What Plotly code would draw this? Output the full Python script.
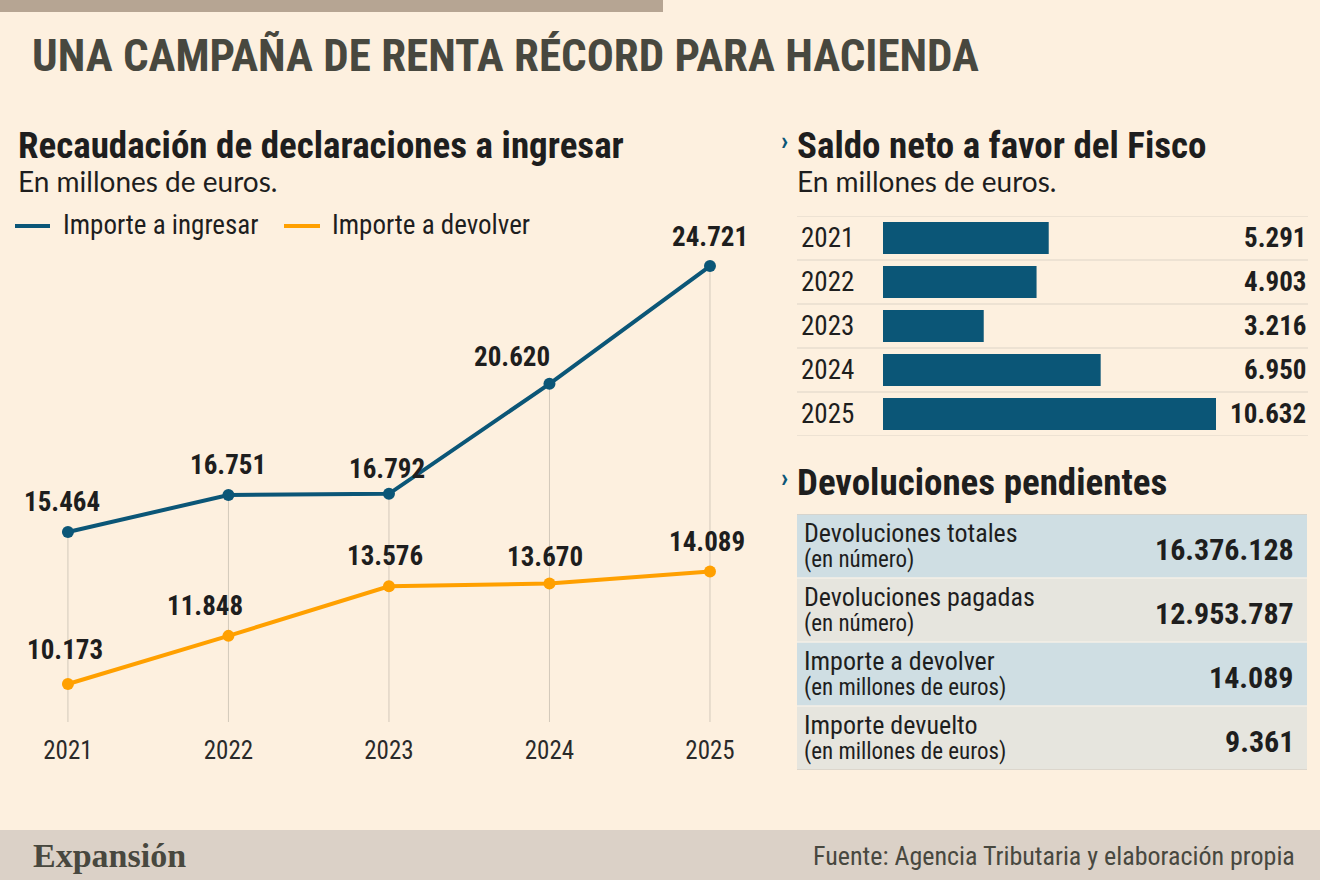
import plotly.graph_objects as go

# ---------------- data ----------------
YEARS = [2021, 2022, 2023, 2024, 2025]
IMPORTE_INGRESAR = [15464, 16751, 16792, 20620, 24721]
IMPORTE_DEVOLVER = [10173, 11848, 13576, 13670, 14089]

SALDO_YEARS = ["2021", "2022", "2023", "2024", "2025"]
SALDO_NETO = [5291, 4903, 3216, 6950, 10632]

TABLE_LABELS = ["Devoluciones totales", "Devoluciones pagadas",
                "Importe a devolver", "Importe devuelto"]
TABLE_UNITS = ["(en número)", "(en número)",
               "(en millones de euros)", "(en millones de euros)"]
TABLE_VALUES = [16376128, 12953787, 14089, 9361]

# ---------------- style ----------------
W, H = 1320, 880
BG = "#fdf0df"
BLUE = "#0b5677"
ORANGE = "#ffa000"
DARK = "#1e1e1e"
TITLE_C = "#48483f"
GRID = "#d3c9bc"
COND = "Roboto Condensed, Liberation Sans Narrow, DejaVu Sans Condensed, sans-serif"
REG = "Lato, Open Sans, sans-serif"

# label offsets (px) for line-chart value labels: (dx, dy)
OFF_ING = [(-6, 30), (0, 30), (-2, 25), (-37, 27), (0, 29)]
OFF_DEV = [(-3, 34), (-23, 30), (-4, 30), (-4, 27), (-3, 29)]


def px(x):
    return x / W


def py(y):
    return 1 - y / H


def fmt(v):
    return f"{v:,}".replace(",", ".")


Y_RANGE = [8850, 25627]

fig = go.Figure()

# line chart
fig.add_trace(go.Scatter(x=YEARS, y=IMPORTE_INGRESAR, mode="lines+markers",
                         line=dict(color=BLUE, width=4), marker=dict(size=12, color=BLUE),
                         name="Importe a ingresar", showlegend=False, hoverinfo="skip",
                         xaxis="x", yaxis="y"))
fig.add_trace(go.Scatter(x=YEARS, y=IMPORTE_DEVOLVER, mode="lines+markers",
                         line=dict(color=ORANGE, width=4), marker=dict(size=12, color=ORANGE),
                         name="Importe a devolver", showlegend=False, hoverinfo="skip",
                         xaxis="x", yaxis="y"))

# bar chart
fig.add_trace(go.Bar(x=SALDO_NETO, y=SALDO_YEARS, orientation="h",
                     marker=dict(color=BLUE, line=dict(width=0)),
                     showlegend=False, hoverinfo="skip", xaxis="x2", yaxis="y2"))

# table anchor (invisible)
fig.add_trace(go.Scatter(x=[0] * len(TABLE_VALUES), y=list(range(len(TABLE_VALUES))),
                         mode="markers", marker=dict(opacity=0), showlegend=False,
                         hoverinfo="skip", xaxis="x3", yaxis="y3"))

shapes = []
ann = []

# top bar and footer
shapes.append(dict(type="rect", xref="paper", yref="paper", x0=0, x1=px(663),
                   y0=py(12), y1=py(0), fillcolor="#b6a593", line=dict(width=0), layer="below"))
shapes.append(dict(type="rect", xref="paper", yref="paper", x0=0, x1=1,
                   y0=0, y1=py(830), fillcolor="#dbd1c7", line=dict(width=0), layer="below"))

# vertical guides
for yr, v in zip(YEARS, IMPORTE_INGRESAR):
    shapes.append(dict(type="line", xref="x", yref="y", x0=yr, x1=yr, y0=Y_RANGE[0], y1=v,
                       line=dict(color=GRID, width=1), layer="below"))

# line labels
for yr, v, (dx, dy) in zip(YEARS, IMPORTE_INGRESAR, OFF_ING):
    ann.append(dict(xref="x", yref="y", x=yr, y=v, xshift=dx, yshift=dy, text=fmt(v),
                    showarrow=False, font=dict(family=COND, size=27, color=DARK, weight="bold")))
for yr, v, (dx, dy) in zip(YEARS, IMPORTE_DEVOLVER, OFF_DEV):
    ann.append(dict(xref="x", yref="y", x=yr, y=v, xshift=dx, yshift=dy, text=fmt(v),
                    showarrow=False, font=dict(family=COND, size=27, color=DARK, weight="bold")))

# titles
ann.append(dict(xref="paper", yref="paper", x=px(30), y=py(56), xanchor="left", yanchor="middle",
                text="UNA CAMPAÑA DE RENTA RÉCORD PARA HACIENDA", showarrow=False,
                font=dict(family=COND, size=45, color=TITLE_C, weight="bold")))
ann.append(dict(xref="paper", yref="paper", x=px(16), y=py(145), xanchor="left", yanchor="middle",
                text="Recaudación de declaraciones a ingresar", showarrow=False,
                font=dict(family=COND, size=37, color=DARK, weight="bold")))
ann.append(dict(xref="paper", yref="paper", x=px(16), y=py(181), xanchor="left", yanchor="middle",
                text="En millones de euros.", showarrow=False,
                font=dict(family=REG, size=28, color=DARK)))

# legend
for x0, x1, xt, col, name in [(15, 50, 61, BLUE, "Importe a ingresar"),
                              (284, 320, 330, ORANGE, "Importe a devolver")]:
    shapes.append(dict(type="line", xref="paper", yref="paper", x0=px(x0), x1=px(x1),
                       y0=py(226), y1=py(226), line=dict(color=col, width=4)))
    ann.append(dict(xref="paper", yref="paper", x=px(xt), y=py(225), xanchor="left",
                    yanchor="middle", text=name, showarrow=False,
                    font=dict(family=COND, size=27, color=DARK)))

# right section titles
for ty, txt in [(145, "Saldo neto a favor del Fisco"), (482, "Devoluciones pendientes")]:
    ann.append(dict(xref="paper", yref="paper", x=px(779), y=py(ty - 4), xanchor="left",
                    yanchor="middle", text="›", showarrow=False,
                    font=dict(family=COND, size=26, color=BLUE, weight="bold")))
    ann.append(dict(xref="paper", yref="paper", x=px(795), y=py(ty), xanchor="left",
                    yanchor="middle", text=txt, showarrow=False,
                    font=dict(family=COND, size=37, color=DARK, weight="bold")))
ann.append(dict(xref="paper", yref="paper", x=px(795), y=py(181), xanchor="left", yanchor="middle",
                text="En millones de euros.", showarrow=False,
                font=dict(family=REG, size=28, color=DARK)))

# bar chart rows
for i in range(len(SALDO_YEARS) + 1):
    shapes.append(dict(type="line", xref="paper", yref="y2", x0=px(797), x1=px(1308),
                       y0=i - 0.5, y1=i - 0.5, line=dict(color="#ddd4c8", width=1.2),
                       layer="below"))
for i, (yr, v) in enumerate(zip(SALDO_YEARS, SALDO_NETO)):
    ann.append(dict(xref="paper", yref="y2", x=px(799), y=i, xanchor="left", yanchor="middle",
                    text=yr, showarrow=False, font=dict(family=COND, size=27, color=DARK)))
    ann.append(dict(xref="paper", yref="y2", x=px(1308), y=i, xanchor="right",
                    yanchor="middle", text=fmt(v), showarrow=False,
                    font=dict(family=COND, size=27, color=DARK, weight="bold")))

# table
ROW_COLS = ["#cfdee3", "#e6e5de"]
for i, (lab, unit, val) in enumerate(zip(TABLE_LABELS, TABLE_UNITS, TABLE_VALUES)):
    shapes.append(dict(type="rect", xref="paper", yref="y3", x0=px(797), x1=px(1307),
                       y0=i - 0.5, y1=i + 0.5, fillcolor=ROW_COLS[i % 2],
                       line=dict(width=0), layer="below"))
    ann.append(dict(xref="paper", yref="y3", x=px(802), y=i, yshift=1, xanchor="left",
                    yanchor="middle", align="left",
                    text=(f"<span style='font-size:26px'>{lab}</span><br>"
                          f"<span style='font-size:23px'>{unit}</span>"),
                    showarrow=False, font=dict(family=COND, size=19, color=DARK)))
    ann.append(dict(xref="paper", yref="y3", x=px(1296), y=i, yshift=-3, xanchor="right",
                    yanchor="middle", text=fmt(val), showarrow=False,
                    font=dict(family=COND, size=30, color=DARK, weight="bold")))
for i in range(len(TABLE_VALUES) + 1):
    edge = i in (0, len(TABLE_VALUES))
    shapes.append(dict(type="line", xref="paper", yref="y3", x0=px(797), x1=px(1307),
                       y0=i - 0.5, y1=i - 0.5,
                       line=dict(color="#d8d1c6" if edge else "#f4efe7", width=1.5)))

# footer texts
ann.append(dict(xref="paper", yref="paper", x=px(31), y=py(855), xanchor="left", yanchor="middle",
                text="Expansión", showarrow=False,
                font=dict(family="Liberation Serif, DejaVu Serif, serif", size=34,
                          color=TITLE_C, weight="bold")))
ann.append(dict(xref="paper", yref="paper", x=px(1297), y=py(856), xanchor="right",
                yanchor="middle", text="Fuente: Agencia Tributaria y elaboración propia",
                showarrow=False, font=dict(family=COND, size=26, color=TITLE_C)))

fig.update_layout(
    width=W, height=H, margin=dict(l=0, r=0, t=0, b=0),
    paper_bgcolor=BG, plot_bgcolor="rgba(0,0,0,0)",
    shapes=shapes, annotations=ann, bargap=0.273,
    xaxis=dict(domain=[px(40), px(740)], range=[2020.826, 2025.187],
               tickvals=YEARS, ticktext=[str(y) for y in YEARS],
               showgrid=False, zeroline=False, showline=False, ticks="",
               tickfont=dict(family=COND, size=25, color="#2a2a2a"),
               ticklabelstandoff=11, fixedrange=True),
    yaxis=dict(domain=[py(722), py(240)], range=Y_RANGE, visible=False, fixedrange=True),
    xaxis2=dict(domain=[px(883), px(1216)], range=[0, max(SALDO_NETO)], visible=False,
                anchor="y2", fixedrange=True),
    yaxis2=dict(domain=[py(436), py(216)], type="category", categoryorder="array",
                categoryarray=SALDO_YEARS, range=[4.5, -0.5], visible=False, anchor="x2",
                fixedrange=True),
    xaxis3=dict(domain=[px(797), px(1307)], range=[0, 1], visible=False, anchor="y3"),
    yaxis3=dict(domain=[py(770), py(514)], range=[3.5, -0.5], visible=False, anchor="x3"),
)

fig.write_html("out.html", config=dict(displayModeBar=False))
